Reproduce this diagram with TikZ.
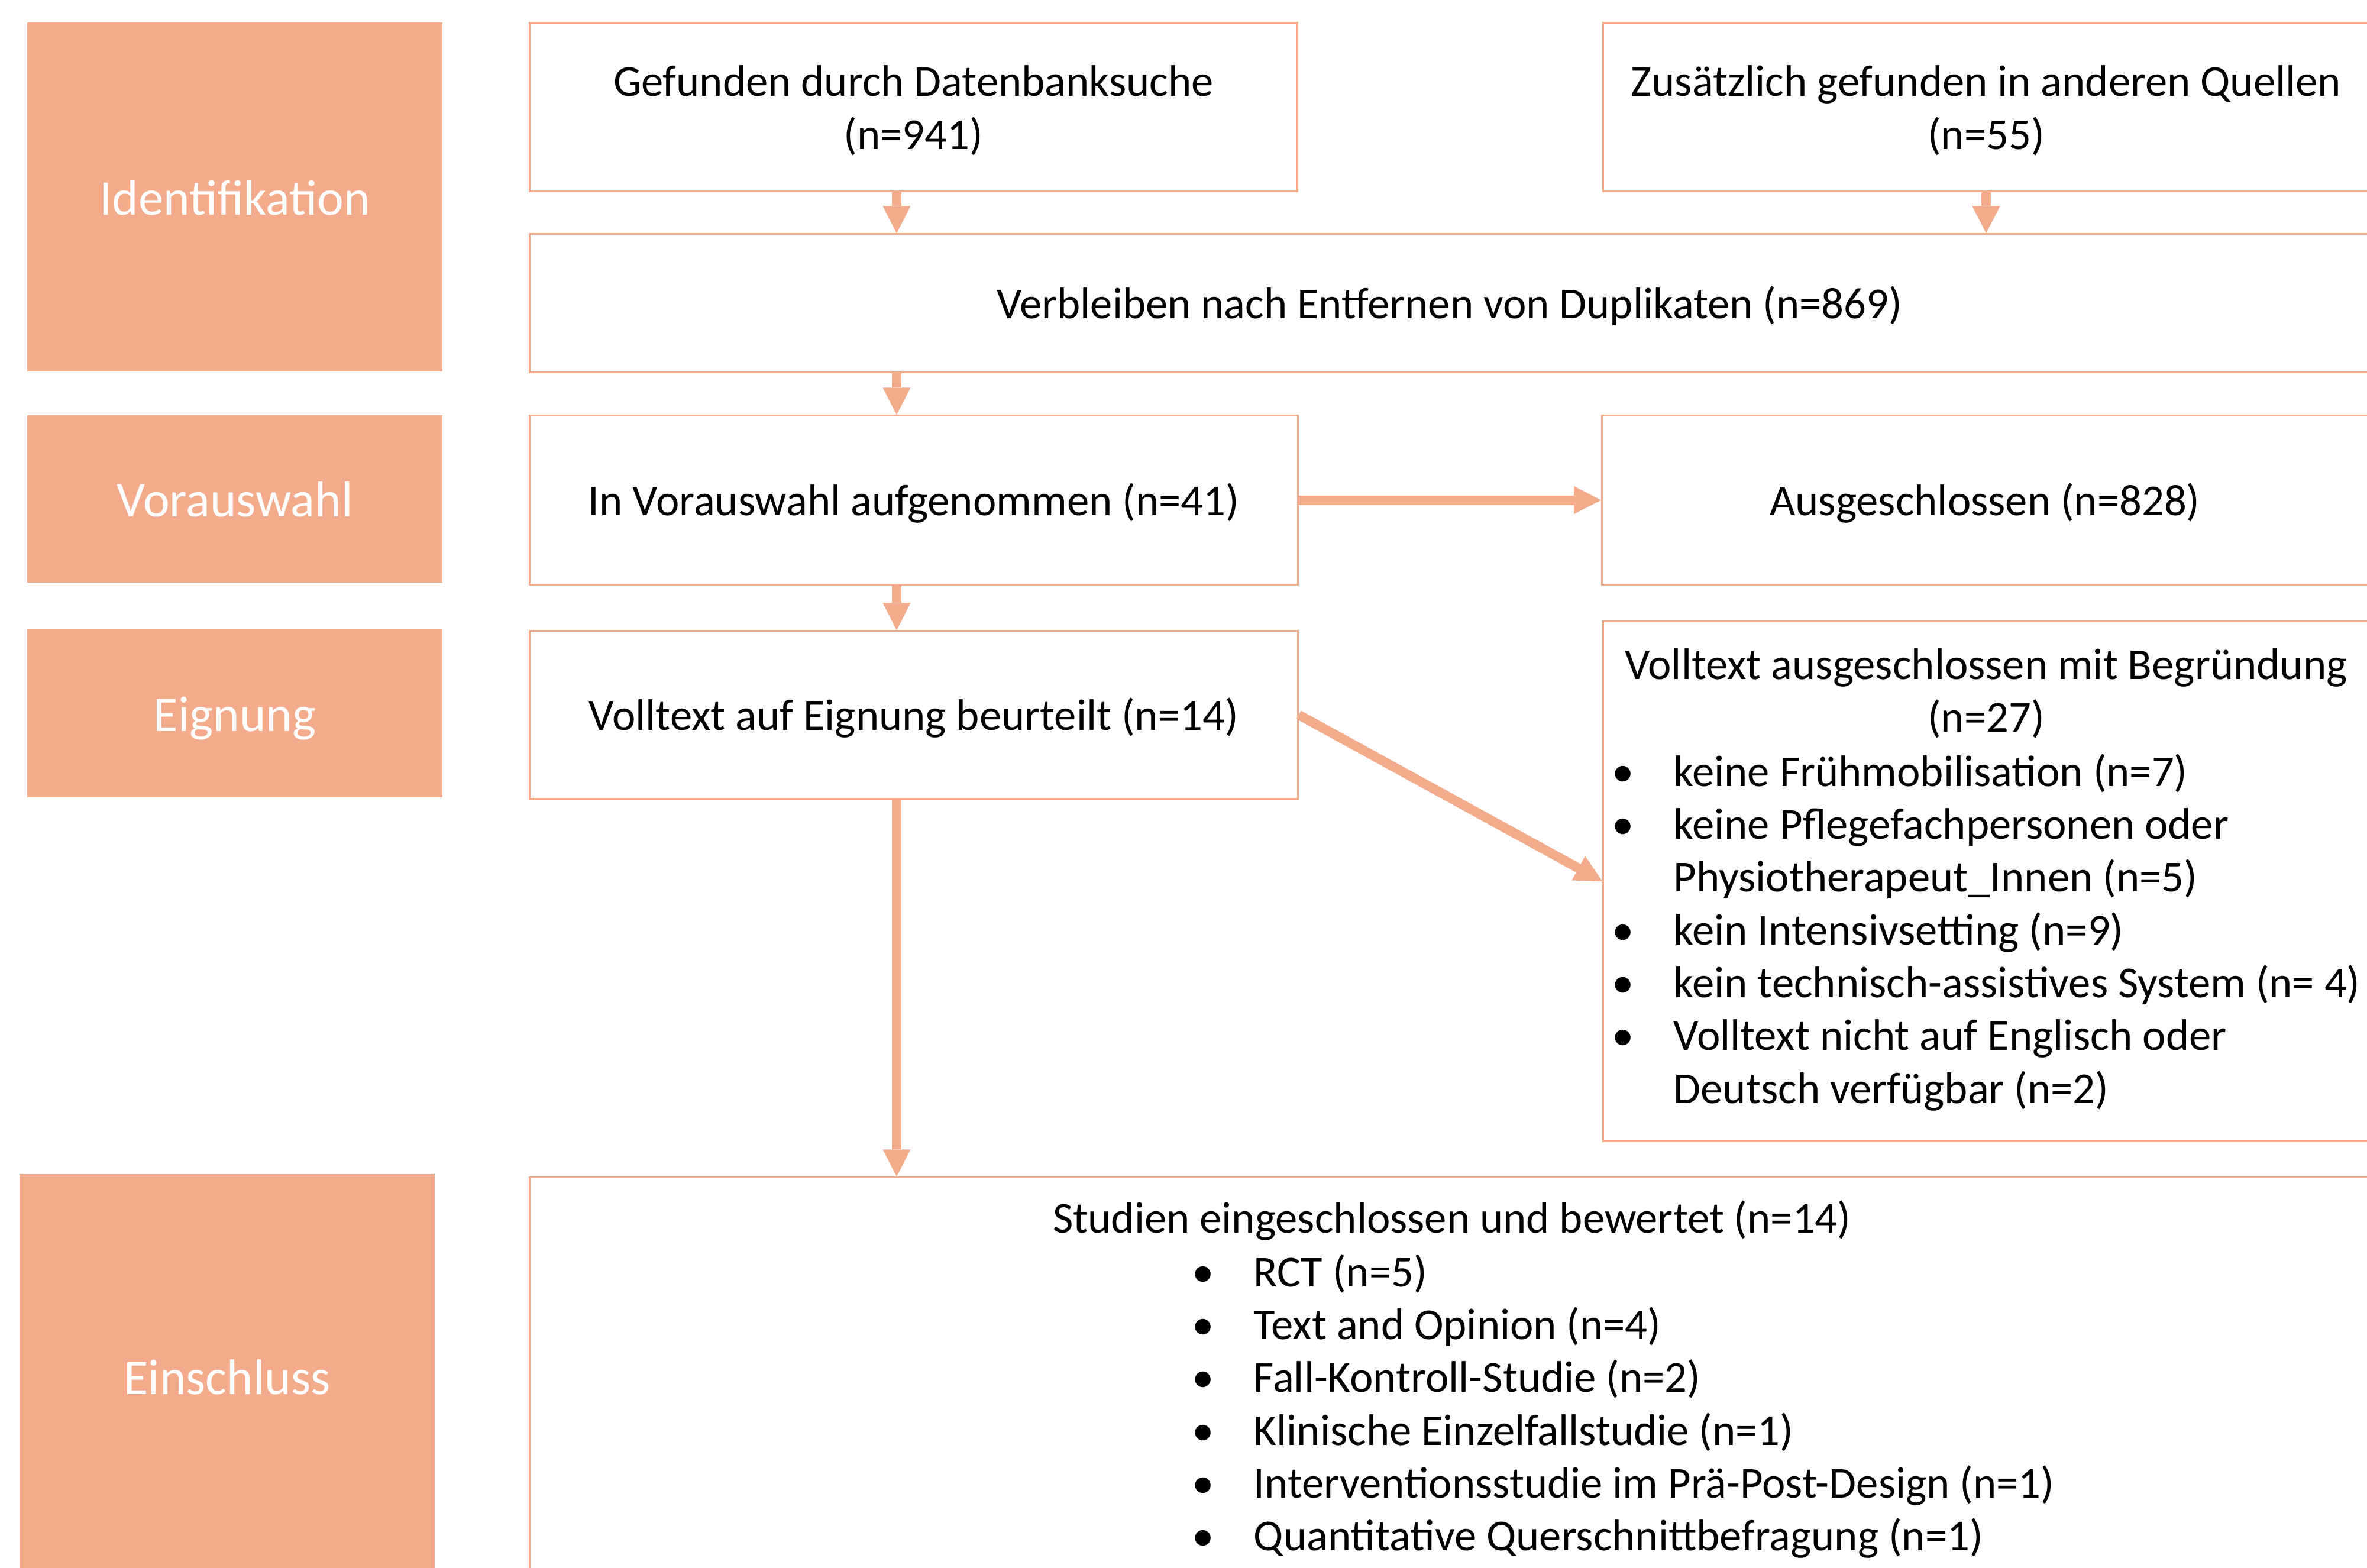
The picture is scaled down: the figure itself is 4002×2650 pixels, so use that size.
\documentclass[tikz,border=0pt]{standalone}
\usepackage{fontspec}
\setmainfont{Carlito}
\usetikzlibrary{arrows.meta,calc}
\definecolor{salm}{RGB}{244,171,139}
\newcommand\boxfont{\fontsize{21.25pt}{25.41pt}\selectfont}
\newcommand\labfont{\fontsize{24.1pt}{29pt}\selectfont}
\newcommand\bul{\makebox[0.4cm]{\textbullet}}
\newcommand\lo[1]{\raisebox{-0.085cm}[\height][\depth]{\begin{tabular}{@{}c@{}}#1\end{tabular}}}
\begin{document}
\begin{tikzpicture}[x=0.01cm,y=-0.01cm,
  lab/.style={fill=salm,draw=none,text=white,font=\labfont,inner sep=0,minimum width=7.02cm,text height=0.78cm,text depth=0.18cm},
  wbox/.style={draw=salm,line width=0.03cm,fill=white,font=\boxfont,align=center,inner sep=0},
  txt/.style={font=\boxfont,inner sep=0},
  arr/.style={draw=salm,line width=0.16cm,-{Triangle[width=0.47cm,length=0.46cm,line width=0pt]}}]
\useasboundingbox (0,0) rectangle (4002,2650);
\clip (0,0) rectangle (4002,2650);
\fill[white] (0,0) rectangle (4002,2650);
% phase labels
\node[lab,minimum height=5.90cm] (idlab) at (397,333) {Identifikation};
\node[lab,minimum height=2.83cm] (vlab) at (397,843.5) {Vorauswahl};
\node[lab,minimum height=2.84cm] (elab) at (397,1206) {Eignung};
\node[lab,minimum height=6.84cm] (inlab) at (384,2327) {Einschluss};
% boxes
\node[wbox,minimum width=12.97cm,minimum height=2.84cm] (g) at (1544.5,181) {\lo{Gefunden durch Datenbanksuche\\(n=941)}};
\node[wbox,minimum width=12.94cm,minimum height=2.84cm] (z) at (3358,181) {\lo{Zusätzlich gefunden in anderen Quellen\\(n=55)}};
\node[wbox,minimum width=31.10cm,minimum height=2.33cm] (v) at (2451,512.5) {\lo{Verbleiben nach Entfernen von Duplikaten (n=869)}};
\node[wbox,minimum width=12.98cm,minimum height=2.85cm] (a) at (1545,845.5) {\lo{In Vorauswahl aufgenommen (n=41)}};
\node[wbox,minimum width=12.94cm,minimum height=2.85cm] (aus) at (3356,845.5) {\lo{Ausgeschlossen (n=828)}};
\node[wbox,minimum width=12.98cm,minimum height=2.83cm] (e) at (1545,1208.5) {\lo{Volltext auf Eignung beurteilt (n=14)}};
\node[wbox,minimum width=12.94cm,minimum height=8.78cm] (vt) at (3358,1490) {};
\node[wbox,minimum width=31.18cm,minimum height=7.09cm] (s) at (2455,2345.5) {};
% box contents
\node[txt,anchor=base] (vtt) at (3358,1148) {\begin{tabular}[t]{@{}c@{}}Volltext ausgeschlossen mit Begründung\\(n=27)\end{tabular}};
\node[txt,anchor=base west] (vtl) at (2723,1329) {\begin{tabular}[t]{@{}l@{\hspace{0.66cm}}l@{}}
\bul & keine Frühmobilisation (n=7)\\
\bul & keine Pflegefachpersonen oder\\
 & Physiotherapeut\_Innen (n=5)\\
\bul & kein Intensivsetting (n=9)\\
\bul & kein technisch-assistives System (n= 4)\\
\bul & Volltext nicht auf Englisch oder\\
 & Deutsch verfügbar (n=2)
\end{tabular}};
\node[txt,anchor=base] (st) at (2455,2084) {Studien eingeschlossen und bewertet (n=14)};
\node[txt,anchor=base west] (sl) at (2013,2175) {\begin{tabular}[t]{@{}l@{\hspace{0.66cm}}l@{}}
\bul & RCT (n=5)\\
\bul & Text and Opinion (n=4)\\
\bul & Fall-Kontroll-Studie (n=2)\\
\bul & Klinische Einzelfallstudie (n=1)\\
\bul & Interventionsstudie im Prä-Post-Design (n=1)\\
\bul & Quantitative Querschnittbefragung (n=1)
\end{tabular}};
% connectors
\coordinate (cx) at (1516,0);
\draw[arr] (g.south -| cx) -- (v.north -| cx);
\draw[arr] (z.south) -- (z.south |- v.north);
\draw[arr] (v.south -| cx) -- (a.north -| cx);
\draw[arr] (a.east) -- (aus.west);
\draw[arr] (a.south -| cx) -- (e.north -| cx);
\draw[arr] (e.east) -- (vt.west);
\draw[arr] (e.south -| cx) -- (s.north -| cx);
\end{tikzpicture}
\end{document}
